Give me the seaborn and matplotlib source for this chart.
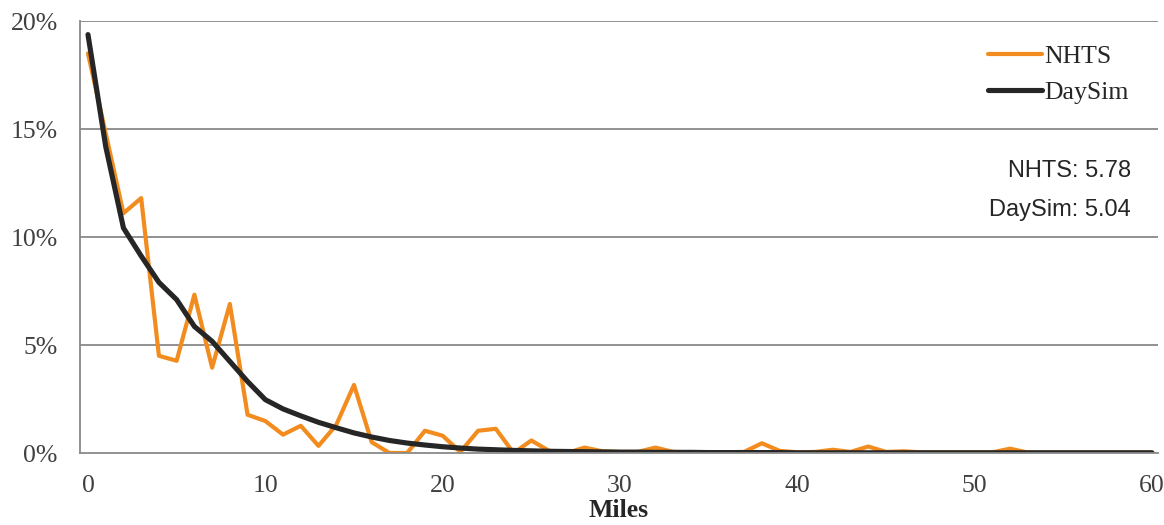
import numpy as np
import pandas as pd
import matplotlib
matplotlib.use("Agg")
import matplotlib.pyplot as plt
import seaborn as sns

# Trip length distribution, share of trips (%) by mile
miles = list(range(61))
nhts = [18.5, 14.8, 11.1, 11.8, 4.5, 4.27, 7.33, 3.95, 6.9, 1.77,
        1.48, 0.85, 1.26, 0.33, 1.3, 3.15, 0.5, 0.0, 0.0, 1.03,
        0.8, 0.05, 1.03, 1.12, 0.0, 0.58, 0.1, 0.0, 0.25, 0.08,
        0.05, 0.05, 0.25, 0.05, 0.03, 0.03, 0.03, 0.05, 0.45, 0.1,
        0.03, 0.05, 0.15, 0.05, 0.3, 0.05, 0.08, 0.03, 0.03, 0.03,
        0.03, 0.03, 0.2, 0.02, 0.02, 0.02, 0.02, 0.02, 0.02, 0.02,
        0.02]
daysim = [19.37, 14.19, 10.42, 9.12, 7.9, 7.1, 5.86, 5.17, 4.24, 3.31,
          2.47, 2.04, 1.72, 1.42, 1.17, 0.93, 0.74, 0.58, 0.46, 0.37,
          0.29, 0.23, 0.18, 0.15, 0.12, 0.1, 0.08, 0.07, 0.06, 0.05,
          0.04, 0.04, 0.03, 0.03, 0.03, 0.02, 0.02, 0.02, 0.02, 0.02,
          0.01, 0.01, 0.01, 0.01, 0.01, 0.01, 0.01, 0.01, 0.01, 0.01,
          0.01, 0.01, 0.01, 0.01, 0.01, 0.01, 0.01, 0.01, 0.01, 0.01,
          0.01]
series_names = ["NHTS", "DaySim"]
series_colors = ["#F28C1E", "#262626"]
avg_labels = ["NHTS: 5.78", "DaySim: 5.04"]
y_ticks = [0, 5, 10, 15, 20]
x_ticks = [0, 10, 20, 30, 40, 50, 60]

df = pd.DataFrame({"Miles": miles, "NHTS": nhts, "DaySim": daysim})

sns.set_style("white")
plt.rcParams["font.family"] = ["Liberation Serif", "DejaVu Serif"]

fig = plt.figure(figsize=(11.64, 5.25), dpi=100)
ax = fig.add_axes([80 / 1164, 1 - 453 / 525, (1158 - 80) / 1164, (453 - 21) / 525])

grid_col = "#898989"
for y in y_ticks[1:]:
    ax.axhline(y, color=grid_col, lw=1.3, zorder=0)

sns.lineplot(data=df, x="Miles", y="NHTS", color=series_colors[0], lw=3.0,
             label="NHTS", ax=ax, solid_joinstyle="round", solid_capstyle="round")
sns.lineplot(data=df, x="Miles", y="DaySim", color=series_colors[1], lw=3.7,
             label="DaySim", ax=ax, solid_joinstyle="round", solid_capstyle="round")

ax.set_xlim(-0.45, 60.34)
ax.set_ylim(0, 20)
ax.set_xticks(x_ticks)
ax.set_yticks(y_ticks)
ax.set_yticklabels([f"{v}%" for v in y_ticks])
ax.tick_params(axis="both", length=0, labelsize=18.5, labelcolor="#404040")
ax.tick_params(axis="y", pad=16)
ax.tick_params(axis="x", pad=16)
ax.set_xlabel("Miles", fontsize=18.5, fontweight="bold", color="#262626", labelpad=1)
ax.set_ylabel("")

for side in ["top", "right"]:
    ax.spines[side].set_visible(False)
for side in ["left", "bottom"]:
    ax.spines[side].set_color(grid_col)
    ax.spines[side].set_linewidth(1.3)

leg = ax.legend(loc="upper right", bbox_to_anchor=(1129 / 1164, 1 - 45 / 525),
                bbox_transform=fig.transFigure, frameon=False, fontsize=18.5,
                handlelength=2.1, handletextpad=0.1, labelspacing=0.5,
                borderpad=0, borderaxespad=0)
for t in leg.get_texts():
    t.set_color("#262626")

fig.text(1131 / 1164, 1 - 171 / 525, avg_labels[0], ha="right", va="center",
         fontsize=17, family="Liberation Sans", color="#262626")
fig.text(1131 / 1164, 1 - 210 / 525, avg_labels[1], ha="right", va="center",
         fontsize=17, family="Liberation Sans", color="#262626")

fig.savefig("out.png", dpi=100)
